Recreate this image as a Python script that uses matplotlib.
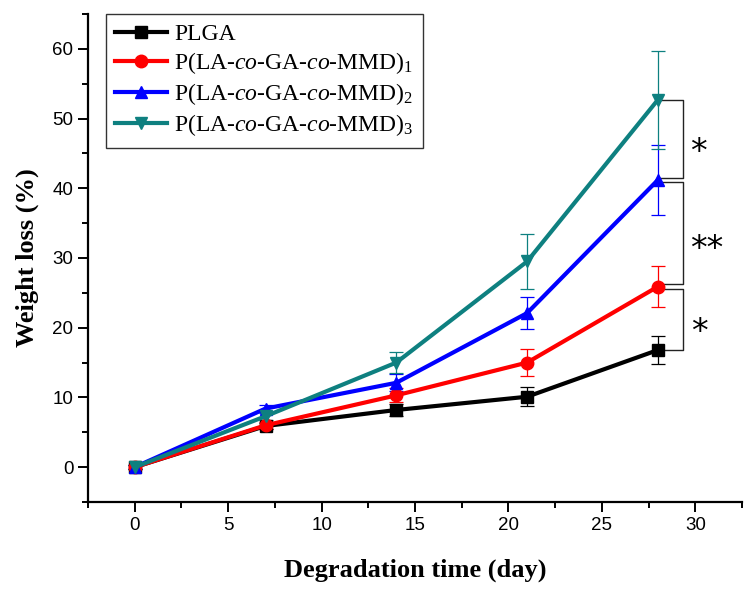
import matplotlib
matplotlib.use('Agg')
import matplotlib.pyplot as plt
from matplotlib.ticker import MultipleLocator
from matplotlib.lines import Line2D

# datos
dias = [0, 7, 14, 21, 28]
plga = [0, 5.9, 8.2, 10.1, 16.8]
plga_err = [0.3, 0.5, 0.9, 1.4, 2.0]
p1 = [0, 6.0, 10.3, 15.0, 25.9]
p1_err = [0.3, 0.5, 1.0, 1.9, 2.9]
p2 = [0, 8.4, 12.1, 22.1, 41.2]
p2_err = [0.3, 0.5, 1.2, 2.25, 5.0]
p3 = [0, 7.3, 15.0, 29.5, 52.7]
p3_err = [0.3, 0.5, 1.5, 4.0, 7.0]

etiquetas = ['PLGA',
             r'P(LA-$\it{co}$-GA-$\it{co}$-MMD)$_{1}$',
             r'P(LA-$\it{co}$-GA-$\it{co}$-MMD)$_{2}$',
             r'P(LA-$\it{co}$-GA-$\it{co}$-MMD)$_{3}$']
colores = ['black', '#ff0000', '#0000ff', '#0e8080']
marcadores = ['s', 'o', '^', 'v']

plt.rcParams['mathtext.fontset'] = 'custom'
plt.rcParams['mathtext.rm'] = 'Liberation Serif'
plt.rcParams['mathtext.it'] = 'Liberation Serif:italic'

fig = plt.figure(figsize=(7.53, 5.95), dpi=100)
ax = fig.add_axes([88/753, 1-502/595, 654/753, 488/595])

series = [(plga, plga_err), (p1, p1_err), (p2, p2_err), (p3, p3_err)]
manejadores = []
for (y, e), c, m, lab in zip(series, colores, marcadores, etiquetas):
    ax.errorbar(dias, y, yerr=e, color=c, ecolor=c, elinewidth=0.9, capsize=5,
                capthick=0.9, linewidth=3, marker=m, markersize=9)
    manejadores.append(Line2D([], [], color=c, linewidth=3, marker=m, markersize=9, label=lab))

# corchetes de significancia
bx0, bx1 = 28.1, 29.35
pares = [(p3[-1], p2[-1] + 0.3), (p2[-1] - 0.3, p1[-1] + 0.4), (p1[-1] - 0.4, plga[-1])]
for (ya, yb) in pares:
    ax.plot([bx0, bx1, bx1, bx0], [ya, ya, yb, yb], color='#222222', linewidth=1)
estrellas = [('*', 30.15, 45.2), ('**', 30.6, 31.2), ('*', 30.2, 19.3)]
for s, xs, ys in estrellas:
    ax.text(xs, ys, s, fontsize=24, family='DejaVu Sans', ha='center', va='center')

ax.set_xlim(-2.5, 32.5)
ax.set_ylim(-5, 65)
ax.xaxis.set_major_locator(MultipleLocator(5))
ax.xaxis.set_minor_locator(MultipleLocator(2.5))
ax.yaxis.set_major_locator(MultipleLocator(10))
ax.yaxis.set_minor_locator(MultipleLocator(5))
ax.spines['top'].set_visible(False)
ax.spines['right'].set_visible(False)
ax.spines['left'].set_linewidth(1.6)
ax.spines['bottom'].set_linewidth(1.6)
ax.tick_params(which='major', direction='out', length=7, width=1.4, labelsize=13.5)
ax.tick_params(which='minor', direction='out', length=4.5, width=1.4)
for t in ax.get_xticklabels() + ax.get_yticklabels():
    t.set_family('Liberation Sans')

ax.set_xlabel('Degradation time (day)', family='Liberation Serif', fontweight='bold',
              fontsize=19, labelpad=18)
ax.set_ylabel('Weight loss (%)', family='Liberation Serif', fontweight='bold',
              fontsize=19, labelpad=10)

leg = ax.legend(handles=manejadores, loc='upper left', bbox_to_anchor=(0.0275, 1.0),
                prop={'family': 'Liberation Serif', 'size': 17}, borderaxespad=0,
                handlelength=2.2, labelspacing=0.22, borderpad=0.4, handletextpad=0.3,
                fancybox=False, framealpha=1)
leg.get_frame().set_edgecolor('#333333')
leg.get_frame().set_linewidth(1)

plt.savefig('out.png', dpi=100)
